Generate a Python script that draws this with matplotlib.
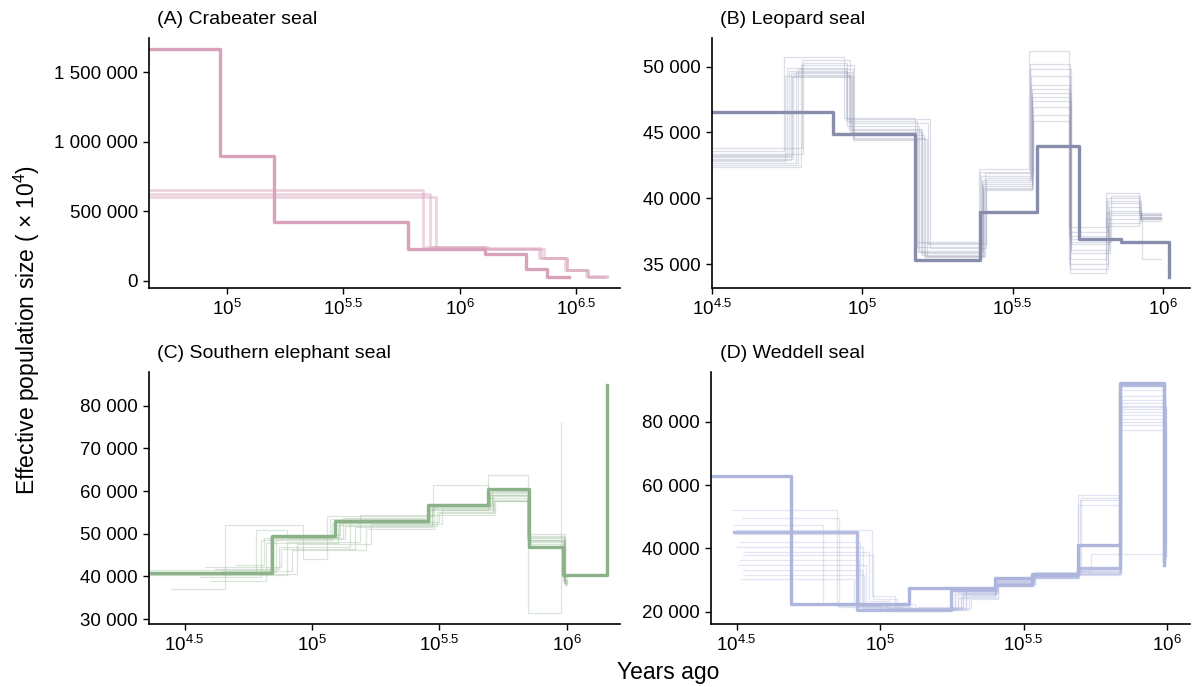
import numpy as np
import matplotlib
matplotlib.use("Agg")
import matplotlib.pyplot as plt
from matplotlib.ticker import FuncFormatter, NullLocator

plt.rcParams['font.family'] = ['Liberation Sans', 'DejaVu Sans']
plt.rcParams['mathtext.default'] = 'regular'

# ---- data: log10(years ago) step starts and effective population size ----
# (A) Crabeater seal
a_main_logt = [4.60, 4.971, 5.202, 5.778, 6.11, 6.285, 6.373, 6.47]
a_main_n = [1665000, 897000, 420000, 226000, 192000, 86000, 27000, 27000]
a_boot_logt = [
    [4.60, 5.84, 6.11, 6.35, 6.46, 6.55, 6.63],
    [4.60, 5.87, 6.12, 6.34, 6.45, 6.55, 6.62],
    [4.60, 5.90, 6.11, 6.36, 6.46, 6.54, 6.63],
]
a_boot_n = [
    [650000, 245000, 235000, 165000, 77000, 27000, 27000],
    [625000, 240000, 230000, 160000, 75000, 28000, 28000],
    [600000, 235000, 228000, 162000, 80000, 30000, 30000],
]

# (B) Leopard seal
b_main_logt = [4.45, 4.903, 5.174, 5.391, 5.581, 5.72, 5.86, 6.019]
b_main_n = [46530, 44880, 35300, 38980, 43990, 36880, 36700, 34040]
b_boot_logt = [
    [4.45, 4.740, 4.940, 5.176, 5.388, 5.555, 5.688, 5.812, 5.920, 5.994],
    [4.45, 4.748, 4.945, 5.182, 5.392, 5.558, 5.690, 5.815, 5.922, 5.994],
    [4.45, 4.755, 4.950, 5.190, 5.395, 5.560, 5.691, 5.818, 5.925, 5.994],
    [4.45, 4.762, 4.955, 5.195, 5.398, 5.562, 5.692, 5.820, 5.926, 5.994],
    [4.45, 4.770, 4.960, 5.200, 5.400, 5.564, 5.693, 5.822, 5.927, 5.994],
    [4.45, 4.778, 4.965, 5.205, 5.403, 5.566, 5.694, 5.824, 5.928, 5.994],
    [4.45, 4.786, 4.968, 5.210, 5.405, 5.567, 5.690, 5.812, 5.929, 5.994],
    [4.45, 4.795, 4.972, 5.215, 5.408, 5.568, 5.688, 5.816, 5.924, 5.994],
    [4.45, 4.800, 4.958, 5.220, 5.410, 5.569, 5.692, 5.818, 5.921, 5.994],
    [4.45, 4.804, 4.948, 5.225, 5.412, 5.565, 5.690, 5.810, 5.926, 5.994],
    [4.45, 4.744, 4.970, 5.185, 5.397, 5.558, 5.694, 5.826, 5.923, 5.994],
    [4.45, 4.766, 4.962, 5.198, 5.402, 5.563, 5.689, 5.814, 5.927, 5.994],
]
b_boot_n = [
    [43600, 50700, 46100, 36700, 42200, 51200, 37800, 40400, 38900, 38900],
    [43300, 49900, 45900, 36300, 42000, 50200, 37400, 40000, 38700, 38700],
    [43100, 49700, 45500, 36000, 41700, 49300, 36900, 39600, 38600, 38600],
    [42900, 49500, 45200, 35800, 41400, 48600, 36500, 39300, 38500, 38500],
    [43000, 49400, 45000, 35700, 41100, 48000, 36100, 39000, 38400, 38400],
    [42700, 49600, 44800, 35600, 40900, 47400, 35800, 38700, 38300, 38300],
    [42500, 49800, 44600, 35500, 40700, 46900, 35400, 38400, 35400, 35400],
    [42400, 50100, 44500, 35600, 41900, 46300, 35000, 38100, 38800, 38800],
    [43800, 50500, 45700, 36500, 41500, 45900, 34600, 37900, 38600, 38600],
    [43400, 50300, 46000, 36200, 40600, 47700, 34300, 39800, 38700, 38700],
    [42800, 49300, 44400, 35900, 41200, 49800, 36700, 40200, 38500, 38500],
    [43200, 49200, 45300, 36600, 40800, 48300, 37100, 38900, 38400, 38400],
]

# (C) Southern elephant seal
c_main_logt = [4.30, 4.843, 5.091, 5.455, 5.692, 5.85, 5.985, 6.158]
c_main_n = [40870, 49480, 52930, 56840, 60440, 46900, 40250, 84850]
c_boot_logt = [
    [4.447, 4.660, 4.965, 5.060, 5.476, 5.690, 5.845, 5.985, 6.000],
    [4.30, 4.780, 4.900, 5.120, 5.460, 5.692, 5.846, 5.978],
    [4.56, 4.80, 5.08, 5.46, 5.70, 5.848, 5.990, 6.0],
    [4.605, 4.82, 5.10, 5.47, 5.705, 5.848, 5.992, 6.0],
    [4.30, 4.845, 5.11, 5.46, 5.695, 5.85, 5.99, 6.0],
    [4.30, 4.86, 5.13, 5.49, 5.71, 5.848, 5.988, 6.0],
    [4.62, 4.87, 5.15, 5.50, 5.715, 5.846, 5.992, 6.0],
    [4.58, 4.88, 5.17, 5.47, 5.70, 5.848, 5.995, 6.0],
    [4.30, 4.90, 5.19, 5.505, 5.72, 5.85, 5.99, 6.0],
    [4.65, 4.92, 5.21, 5.48, 5.705, 5.848, 5.993, 6.0],
    [4.30, 4.94, 5.23, 5.51, 5.71, 5.846, 5.99, 6.0],
    [4.70, 4.81, 5.07, 5.455, 5.693, 5.85, 5.985, 6.0],
    [4.30, 4.835, 5.105, 5.465, 5.70, 5.847, 5.99, 6.0],
]
c_boot_n = [
    [37000, 52150, 44200, 54200, 61500, 58500, 48500, 39000, 39000],
    [40600, 50800, 49000, 53800, 55500, 63700, 31500, 75850],
    [39860, 48500, 52500, 56000, 59500, 49500, 38500, 38500],
    [38840, 47800, 52000, 55800, 59000, 49000, 38200, 38200],
    [41500, 49800, 53200, 56500, 60200, 47500, 39500, 39500],
    [41000, 48800, 51800, 55200, 58000, 48000, 40000, 40000],
    [41800, 47000, 52800, 54800, 57600, 48500, 39000, 39000],
    [42200, 46500, 51500, 56200, 59200, 50000, 38700, 38700],
    [40300, 48000, 54500, 54500, 57800, 46800, 39800, 39800],
    [41200, 46200, 51200, 56800, 60000, 47200, 38000, 38000],
    [40500, 47500, 52200, 55500, 58800, 49200, 39200, 39200],
    [42600, 49000, 53500, 57000, 60500, 46900, 40200, 40200],
    [40900, 49300, 52600, 56600, 59800, 48200, 38400, 38400],
]

# (D) Weddell seal
d_main_logt = [4.35, 4.69, 5.099, 5.401, 5.528, 5.69, 5.835, 5.99]
d_main_n = [62840, 22630, 27580, 30530, 32100, 41050, 92100, 34740]
d_alt_logt = [4.49, 4.92, 5.247, 5.401, 5.528, 5.69, 5.835, 5.99]
d_alt_n = [45300, 20530, 26840, 28420, 31500, 33900, 91500, 36000]
d_boot_logt = [
    [4.485, 4.849, 5.10, 5.26, 5.405, 5.53, 5.69, 5.835, 5.99],
    [4.52, 4.855, 5.11, 5.27, 5.41, 5.535, 5.695, 5.84, 5.993],
    [4.49, 4.80, 5.12, 5.28, 5.40, 5.54, 5.69, 5.838, 5.995],
    [4.50, 4.97, 5.05, 5.30, 5.406, 5.532, 5.687, 5.836, 5.99],
    [4.495, 4.92, 5.02, 5.25, 5.41, 5.53, 5.69, 5.84, 5.992],
    [4.51, 4.93, 5.13, 5.29, 5.404, 5.538, 5.692, 5.834, 5.994],
    [4.50, 4.94, 5.09, 5.31, 5.40, 5.53, 5.688, 5.734, 5.99],
    [4.53, 4.96, 5.03, 5.27, 5.41, 5.535, 5.69, 5.838, 5.995],
    [4.52, 4.975, 5.06, 5.26, 5.405, 5.54, 5.70, 5.84, 5.99],
    [4.51, 4.925, 5.00, 5.25, 5.402, 5.53, 5.69, 5.837, 5.992],
    [4.505, 4.95, 5.025, 5.315, 5.41, 5.536, 5.693, 5.835, 5.997],
    [4.52, 4.935, 5.04, 5.28, 5.404, 5.53, 5.69, 5.84, 5.99],
    [4.53, 4.945, 5.08, 5.30, 5.408, 5.534, 5.691, 5.836, 5.993],
    [4.515, 4.91, 5.07, 5.29, 5.405, 5.532, 5.689, 5.838, 5.995],
]
d_boot_n = [
    [52100, 22000, 21000, 25500, 29000, 31000, 56800, 86000, 36000],
    [49500, 21500, 20800, 26000, 29500, 31500, 55200, 88000, 37000],
    [47400, 22500, 21200, 24800, 28700, 30800, 53700, 84000, 38000],
    [45800, 25000, 21000, 27000, 30000, 32200, 33000, 82000, 35500],
    [44700, 21800, 20500, 26500, 29200, 31200, 32500, 80000, 39000],
    [42100, 20800, 21500, 25800, 28800, 30600, 31800, 77400, 36500],
    [40500, 21200, 20600, 25000, 29800, 31800, 32800, 38100, 38100],
    [38900, 23500, 21000, 24500, 28200, 31400, 32000, 85000, 37500],
    [37900, 24000, 20700, 26200, 30200, 32500, 56000, 90000, 38500],
    [36300, 22000, 20900, 27200, 28500, 30900, 31500, 83000, 34500],
    [34700, 22800, 21300, 24200, 29000, 31600, 33200, 79000, 40000],
    [33100, 21000, 20600, 25200, 29600, 30700, 32100, 87000, 35000],
    [31600, 21500, 20800, 26800, 28900, 31300, 32400, 81000, 36800],
    [30500, 22200, 21100, 25600, 29300, 31000, 32700, 84500, 37200],
]

titles = ["(A) Crabeater seal", "(B) Leopard seal",
          "(C) Southern elephant seal", "(D) Weddell seal"]
colors = ['#D8A2BB', '#878DAB', '#8CB289', '#ADB5DD']


def step(ax, logt, n, **kw):
    ax.step(10 ** np.asarray(logt), n, where='post', **kw)


def space_fmt(v, _):
    return f"{int(round(v)):,}".replace(",", " ")


fig = plt.figure(figsize=(11.96, 6.87), dpi=100)
W, H = 1196, 687


def box(l, r, t, b):
    return [l / W, 1 - b / H, (r - l) / W, (b - t) / H]


axA = fig.add_axes(box(149, 620, 38, 288))
axB = fig.add_axes(box(712, 1190, 38, 288))
axC = fig.add_axes(box(149, 620, 372, 623.5))
axD = fig.add_axes(box(711, 1190, 372, 623.5))

panels = [
    (axA, a_main_logt, a_main_n, [], [], a_boot_logt, a_boot_n, 0.45, 2.0),
    (axB, b_main_logt, b_main_n, [], [], b_boot_logt, b_boot_n, 0.28, 0.9),
    (axC, c_main_logt, c_main_n, [], [], c_boot_logt, c_boot_n, 0.32, 0.9),
    (axD, d_main_logt, d_main_n, d_alt_logt, d_alt_n, d_boot_logt, d_boot_n, 0.35, 0.9),
]

for i, (ax, mt, mn, at, an, bt, bn, balpha, blw) in enumerate(panels):
    c = colors[i]
    for t, n in zip(bt, bn):
        step(ax, t, n, color=c, alpha=balpha, lw=blw)
    if at:
        step(ax, at, an, color=c, alpha=0.9, lw=2.4)
    step(ax, mt, mn, color=c, lw=2.4)
    ax.set_xscale('log')
    ax.spines['top'].set_visible(False)
    ax.spines['right'].set_visible(False)
    for s in ('left', 'bottom'):
        ax.spines[s].set_linewidth(1.2)
    ax.tick_params(direction='out', length=4, width=1, labelsize=13.5, pad=4)
    ax.yaxis.set_major_formatter(FuncFormatter(space_fmt))

# axis limits and ticks
xt_a = [5, 5.5, 6, 6.5]
axA.set_xticks([10 ** v for v in xt_a])
axA.set_xticklabels([f"$10^{{{v:g}}}$" for v in xt_a])
axA.set_xlim(10 ** 4.667, 10 ** 6.687)
axA.set_ylim(-53000, 1747000)
axA.set_yticks([0, 500000, 1000000, 1500000])

xt = [4.5, 5, 5.5, 6]
for ax in (axB, axC, axD):
    ax.set_xticks([10 ** v for v in xt])
    ax.set_xticklabels([f"$10^{{{v:g}}}$" for v in xt])
for ax in (axA, axB, axC, axD):
    ax.xaxis.set_minor_locator(NullLocator())

axB.set_xlim(10 ** 4.5, 10 ** 6.09)
axB.set_ylim(33176, 52180)
axB.set_yticks([35000, 40000, 45000, 50000])

axC.set_xlim(10 ** 4.36, 10 ** 6.209)
axC.set_ylim(28990, 87900)
axC.set_yticks([30000, 40000, 50000, 60000, 70000, 80000])

axD.set_xlim(10 ** 4.41, 10 ** 6.08)
axD.set_ylim(16320, 95700)
axD.set_yticks([20000, 40000, 60000, 80000])

# titles
fig.text(157 / W, 1 - 20 / H, titles[0], fontsize=14, va='center')
fig.text(720 / W, 1 - 20 / H, titles[1], fontsize=14, va='center')
fig.text(157 / W, 1 - 354 / H, titles[2], fontsize=14, va='center')
fig.text(720 / W, 1 - 354 / H, titles[3], fontsize=14, va='center')

fig.text(27 / W, 1 - 330 / H, 'Effective population size ( $\\times$ 10$^4$)',
         rotation=90, fontsize=16.5, va='center', ha='center')
fig.text(668 / W, 1 - 672 / H, 'Years ago', fontsize=16.5, va='center', ha='center')

fig.savefig('out.png', dpi=100)
